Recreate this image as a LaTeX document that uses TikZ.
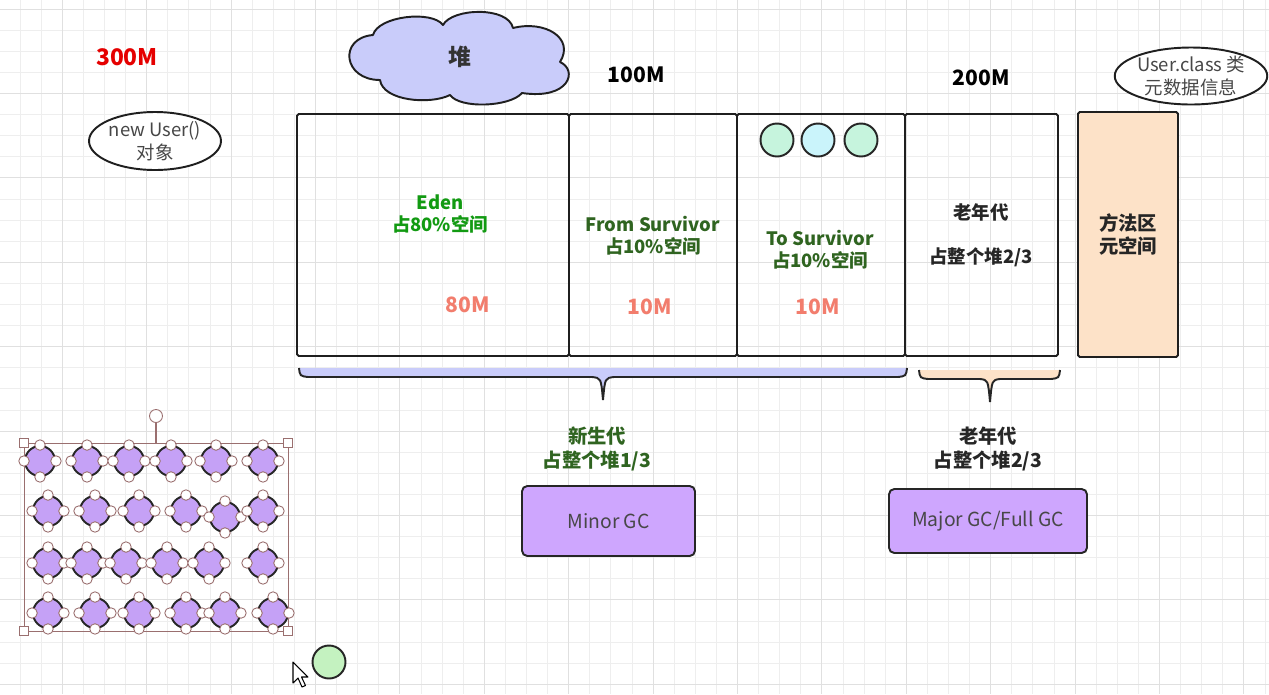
\documentclass[tikz,border=0pt]{standalone}
\usepackage{fontspec}
\setmainfont{Noto Sans CJK SC}
\usetikzlibrary{shapes.geometric}

\definecolor{gridlite}{HTML}{EEEEEE}
\definecolor{griddark}{HTML}{E0E0E0}
\definecolor{heapblue}{HTML}{C9CCFA}
\definecolor{edengreen}{HTML}{129A12}
\definecolor{survgreen}{HTML}{2F6420}
\definecolor{sizered}{HTML}{F27D6D}
\definecolor{oldpeach}{HTML}{FDE2C8}
\definecolor{gcpurple}{HTML}{CEA6FE}
\definecolor{objpurple}{HTML}{C5A1F6}
\definecolor{selbrown}{HTML}{9A6F6F}
\definecolor{mint}{HTML}{C6F4DD}
\definecolor{icecyan}{HTML}{CAF4FB}
\definecolor{leafgreen}{HTML}{C4F2C0}
\definecolor{textgray}{HTML}{474747}

\tikzset{
  heapbox/.style={draw=black!88,line width=1.1pt,rounded corners=1pt,minimum height=4.84cm,inner sep=0pt},
  bold/.style={font=\fontsize{10.5}{12.5}\selectfont\bfseries,align=center},
  size/.style={font=\fontsize{12}{14}\selectfont\bfseries},
  note/.style={draw=black!88,line width=1.1pt,ellipse,fill=white,inner sep=0pt,
    font=\fontsize{10.5}{13}\selectfont,text=textgray,align=center},
  gcbox/.style={draw=black!85,line width=1.1pt,rounded corners=3pt,fill=gcpurple,
    font=\fontsize{11}{13}\selectfont,text=textgray},
  bubble/.style={circle,draw=black!85,line width=1.1pt,fill=objpurple,minimum size=0.6cm,inner sep=0pt},
  handle/.style={circle,draw=selbrown,line width=0.5pt,fill=white,minimum size=0.21cm,inner sep=0pt},
  corner/.style={rectangle,draw=selbrown,line width=0.5pt,fill=white,minimum size=0.18cm,inner sep=0pt},
  ball/.style={circle,draw=black!85,line width=1.1pt,minimum size=0.66cm,inner sep=0pt}
}

\begin{document}
\begin{tikzpicture}[x=0.02cm,y=-0.02cm]
  \useasboundingbox (0,0) rectangle (1269,694);
  \fill[white] (0,0) rectangle (1269,694);

  % background grid
  \foreach \k in {1,...,60} \draw[gridlite,line width=0.5pt] ({-1+21.1*\k},0) -- ({-1+21.1*\k},694);
  \foreach \k in {0,...,32} \draw[gridlite,line width=0.5pt] (0,{9.1+21.1*\k}) -- (1269,{9.1+21.1*\k});
  \foreach \k in {0,...,14} \draw[griddark,line width=0.6pt] ({62.3+84.4*\k},0) -- ({62.3+84.4*\k},694);
  \foreach \k in {0,...,8} \draw[griddark,line width=0.6pt] (0,{9.1+84.4*\k}) -- (1269,{9.1+84.4*\k});

  % top labels
  \node[size,font=\fontsize{13}{15}\selectfont\bfseries,text=red!90!black] (total) at (127,57) {300M};
  \node[note,minimum width=2.64cm,minimum height=1.16cm] (obj) at (155,141) {new User()\\对象};
  \draw[black!88,line width=1.1pt,fill=heapblue,line join=round]
    (373,35) .. controls (378,16) and (432,10) .. (443,25)
    .. controls (452,8) and (508,6) .. (513,28)
    .. controls (545,20) and (575,38) .. (560,62)
    .. controls (578,70) and (570,100) .. (522,93)
    .. controls (510,107) and (460,109) .. (450,95)
    .. controls (430,105) and (383,101) .. (380,80)
    .. controls (343,80) and (338,38) .. cycle;
  \node[font=\fontsize{13}{15}\selectfont\bfseries,text=black!80] (heap) at (460,57) {堆};
  \node[size] (young) at (636,75) {100M};
  \node[size] (old) at (981,78) {200M};
  \node[note,minimum width=2.8cm,minimum height=1.14cm] (meta) at (1191,76) {User.class 类\\元数据信息};

  % heap regions
  \node[heapbox,minimum width=5.44cm] (eden) at (433,235) {};
  \node[heapbox,minimum width=3.36cm] (from) at (653,235) {};
  \node[heapbox,minimum width=3.36cm] (to) at (821,235) {};
  \node[heapbox,minimum width=3.06cm] (tenured) at (981.5,235) {};
  \node[heapbox,fill=oldpeach,minimum width=2cm,minimum height=4.9cm,
    font=\fontsize{11}{13}\selectfont\bfseries,text=black!85,align=center] (method) at (1128,234.5) {方法区\\元空间};

  \node[bold,text=edengreen] (edenlbl) at (440,214) {Eden\\占80\%空间};
  \node[bold,text=survgreen] (fromlbl) at (653,236) {From Survivor\\占10\%空间};
  \node[bold,text=survgreen] (tolbl) at (820,250) {To Survivor\\占10\%空间};
  \node[bold,text=black!85] (tenuredlbl) at (981,212) {老年代};
  \node[bold,text=black!85] (tenuredpart) at (981,257) {占整个堆2/3};
  \node[size,text=sizered] (edensize) at (468,305) {80M};
  \node[size,text=sizered] (fromsize) at (650,307) {10M};
  \node[size,text=sizered] (tosize) at (818,307) {10M};

  \node[ball,fill=mint] (s1) at (777,140) {};
  \node[ball,fill=icecyan] (s2) at (818,140) {};
  \node[ball,fill=mint] (s3) at (861,140) {};

  % braces
  \fill[heapblue] (299,368) .. controls (300,376) .. (308,377) -- (592,377) .. controls (601,378) .. (603,400)
    .. controls (605,378) .. (614,377) -- (898,377) .. controls (906,376) .. (907,368) -- cycle;
  \draw[black!85,line width=1.1pt] (299,368) .. controls (300,376) .. (308,377) -- (592,377) .. controls (601,378) .. (603,400)
    .. controls (605,378) .. (614,377) -- (898,377) .. controls (906,376) .. (907,368);
  \fill[oldpeach] (919,370) .. controls (920,378) .. (928,379) -- (980,379) .. controls (988,380) .. (990,402)
    .. controls (992,380) .. (1000,379) -- (1051,379) .. controls (1059,378) .. (1060,370) -- cycle;
  \draw[black!85,line width=1.1pt] (919,370) .. controls (920,378) .. (928,379) -- (980,379) .. controls (988,380) .. (990,402)
    .. controls (992,380) .. (1000,379) -- (1051,379) .. controls (1059,378) .. (1060,370);

  \node[bold,text=survgreen,font=\fontsize{11}{13.5}\selectfont\bfseries] (younglbl) at (597,449) {新生代\\占整个堆1/3};
  \node[bold,text=black!85,font=\fontsize{11}{13.5}\selectfont\bfseries] (oldlbl) at (988,449) {老年代\\占整个堆2/3};

  \node[gcbox,minimum width=3.46cm,minimum height=1.4cm] (minor) at (608.5,521) {Minor GC};
  \node[gcbox,minimum width=3.96cm,minimum height=1.28cm] (major) at (988,521) {Major GC/Full GC};

  % selected objects
  \draw[selbrown,line width=0.5pt] (24,443) rectangle (288,631);
  \node[handle,minimum size=0.26cm] (rot) at (156,416) {};
  \coordinate (seltop) at (156,443);
  \draw[selbrown,line width=0.6pt] (rot) -- (seltop);
  \foreach \cx/\cy [count=\n] in {40/461,87/461,129/461,171/461,216/461,263/461,
      48/511,95/511,139/511,186/511,225/517,263/511,
      48/563,87/563,126/563,167/563,209/563,263/563,
      48/613,95/613,139/613,186/613,225/613,273/613} {
    \node[bubble] (p\n) at (\cx,\cy) {};
    \foreach \a in {0,90,180,270} \node[handle] at (p\n.\a) {};
  }
  \foreach \cx/\cy in {24/443,288/443,24/631,288/631} \node[corner] at (\cx,\cy) {};

  \node[ball,fill=leafgreen] (spare) at (329,662) {};
  \draw[black,line width=0.6pt,fill=white,line join=round] (293,662) -- (293,683) -- (298,678) -- (302,687)
    -- (305.5,685.5) -- (301.5,677) -- (308,677) -- cycle;
\end{tikzpicture}
\end{document}
